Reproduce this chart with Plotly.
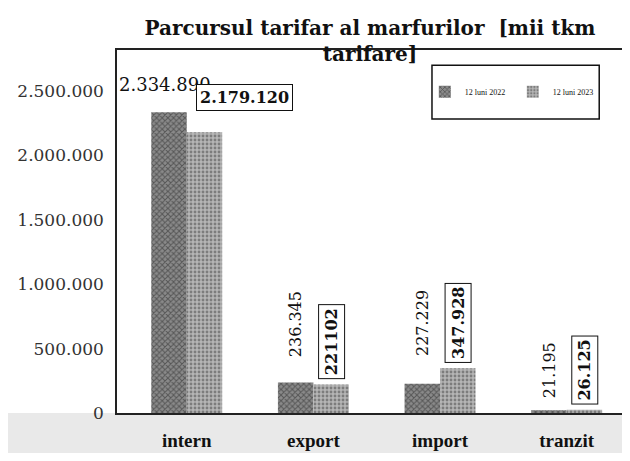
import plotly.graph_objects as go

categories = ["intern", "export", "import", "tranzit"]
series_names = ["12 luni 2022", "12 luni 2023"]
values_2022 = [2334890, 236345, 227229, 21195]
values_2023 = [2179120, 221102, 347928, 26125]
label_2022 = ["2.334.890", "236.345", "227.229", "21.195"]
label_2023 = ["2.179.120", "221102", "347.928", "26.125"]
y_ticks = [0, 500000, 1000000, 1500000, 2000000, 2500000]

SERIF = "Liberation Serif, Times New Roman, serif"
WIDE = "DejaVu Serif, serif"
BARGAP = 0.44
gap_2022 = [15, 23, 26, 10]

fig = go.Figure()
fig.add_trace(go.Bar(
    name=series_names[0], x=categories, y=values_2022,
    marker=dict(color="#8a8a8a", line=dict(width=0),
                pattern=dict(shape="x", fgcolor="#222222", size=4, solidity=0.45)),
))
fig.add_trace(go.Bar(
    name=series_names[1], x=categories, y=values_2023,
    marker=dict(color="#b5b5b5", line=dict(width=0),
                pattern=dict(shape=".", fgcolor="#444444", size=4, solidity=0.4)),
))

off = (1 - BARGAP) / 4
for i, c in enumerate(categories):
    if i == 0:
        fig.add_annotation(x=i - off, y=values_2022[i], text=label_2022[i],
                           showarrow=False, yanchor="bottom", xshift=-4, yshift=gap_2022[i],
                           font=dict(family=WIDE, size=18, color="#111"))
        fig.add_annotation(x=i + off, y=values_2023[i], text="<b>" + label_2023[i] + "</b>",
                           showarrow=False, yanchor="bottom", xshift=40, yshift=21,
                           bordercolor="#111", borderwidth=1, borderpad=3, bgcolor="white",
                           font=dict(family=WIDE, size=16, color="#111"))
    else:
        fig.add_annotation(x=i - off, y=values_2022[i], text=label_2022[i],
                           showarrow=False, yanchor="bottom", textangle=-90, yshift=gap_2022[i],
                           font=dict(family=WIDE, size=16, color="#111"))
        fig.add_annotation(x=i + off, y=values_2023[i], text="<b>" + label_2023[i] + "</b>",
                           showarrow=False, yanchor="bottom", textangle=-90, yshift=5,
                           bordercolor="#111", borderwidth=1, borderpad=3, bgcolor="white",
                           font=dict(family=WIDE, size=16, color="#111"))

# floor band below the axis
fig.add_shape(type="rect", xref="paper", yref="paper", x0=-0.25, x1=1.0, y0=-0.11, y1=0,
              fillcolor="#e9e9e9", line=dict(width=0), layer="below")
# legend box
fig.add_shape(type="rect", xref="paper", yref="paper", x0=0.614, x1=0.94, y0=0.81, y1=0.958,
              fillcolor="white", line=dict(color="#111", width=1.5))

fig.update_layout(
    width=622, height=453,
    margin=dict(l=109, r=0, t=42, b=48),
    paper_bgcolor="white", plot_bgcolor="white",
    separators=",.",
    barmode="group", bargap=BARGAP, bargroupgap=0,
    font=dict(family=SERIF, color="#111"),
    title=dict(text="<b>Parcursul tarifar al marfurilor  [mii tkm<br>tarifare]</b>",
               x=0.582, xref="container", xanchor="center", y=0.94, yanchor="middle",
               font=dict(family=WIDE, size=20, color="#111")),
    legend=dict(orientation="h", x=0.60, y=0.885, xanchor="left", yanchor="middle",
                bgcolor="rgba(0,0,0,0)", borderwidth=0,
                font=dict(family=SERIF, size=8, color="#111"), itemwidth=30,
                entrywidth=43),
    xaxis=dict(showline=True, linecolor="#222", linewidth=1.5, mirror=True,
               ticks="", tickfont=dict(family=SERIF, size=19, color="#111", weight="bold"),
               ticklabelstandoff=9),
    yaxis=dict(range=[0, 2818000], tickvals=y_ticks, tickformat=",d",
               showgrid=False, zeroline=False, showline=True, linecolor="#222", linewidth=1.5,
               ticks="", ticklabelstandoff=8,
               tickfont=dict(family=WIDE, size=17, color="#333")),
)

fig.write_html("out.html")
